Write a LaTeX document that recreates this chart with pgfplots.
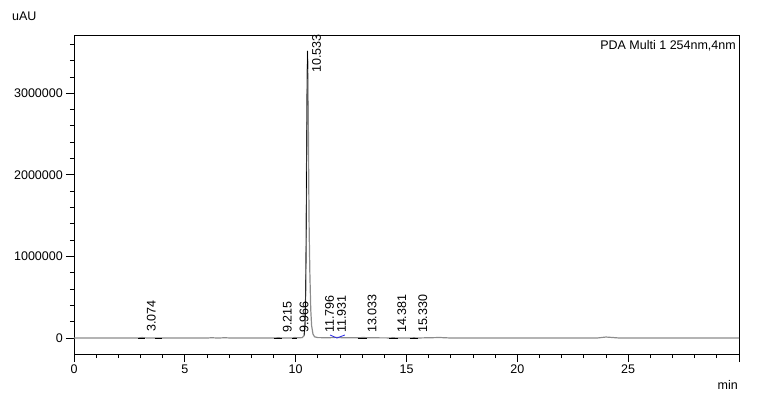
\documentclass[border=0pt]{standalone}
\usepackage{fontspec}
\setmainfont{Liberation Sans}
\usepackage{pgfplots}
\pgfplotsset{compat=1.18}
\definecolor{tracegray}{RGB}{140,140,140}
\definecolor{intblue}{RGB}{40,40,230}

% chromatogram, PDA 254 nm
\pgfplotstableread{
t y
0 0
2.85 0
2.95 2000
3.074 6000
3.2 2000
3.35 0
6.0 0
6.2 3000
6.5 0
6.8 3000
7.1 0
9.10 0
9.215 5000
9.35 0
9.85 0
9.966 6000
10.10 2000
10.30 5000
10.38 30000
10.42 150000
10.45 500000
10.47 1100000
10.49 2000000
10.51 2900000
10.533 3520000
10.55 3300000
10.57 2700000
10.59 1900000
10.61 1300000
10.64 800000
10.68 350000
10.72 150000
10.78 50000
10.85 15000
11.0 5000
11.5 3000
11.796 8000
11.931 6000
12.2 2000
12.9 2000
13.033 8000
13.2 3000
14.3 1000
14.381 5000
14.5 1000
15.25 0
15.330 4000
15.45 0
16.5 6000
17.0 0
23.6 0
24.0 12000
24.6 0
30 0
}\trace

\pgfplotstableread{
t y
10.38 30000
10.42 150000
10.45 500000
10.47 1100000
10.49 2000000
10.51 2900000
10.533 3520000
10.55 3300000
}\apex

% integration baseline marks
\pgfplotstableread{
t y
2.9 0
3.2 0
nan nan
3.65 0
3.97 0
nan nan
9.0 0
9.4 0
nan nan
9.85 0
10.05 0
nan nan
12.8 0
13.2 0
nan nan
14.2 0
14.6 0
nan nan
15.15 0
15.5 0
}\marks

\begin{document}
\fontsize{12.5bp}{15bp}\selectfont
\begin{tikzpicture}
\path[use as bounding box] (-74bp,-47bp) rectangle (691bp,354bp);
\begin{axis}[
    at={(0,0)}, anchor=south west,
    scale only axis,
    width=665bp, height=319bp,
    xmin=0, xmax=30,
    ymin=-196000, ymax=3714000,
    xtick={0,5,...,30},
    xticklabels={0,5,10,15,20,25,},
    minor xtick={1,2,...,29},
    ytick={0,1000000,2000000,3000000},
    yticklabels={0,1000000,2000000,3000000},
    minor ytick={200000,400000,...,3600000},
    scaled ticks=false,
    tick pos=left,
    tick align=outside,
    major tick length=8bp,
    minor tick length=4bp,
    tick style={black, line width=0.8bp},
    axis line style={line width=0.8bp},
    xticklabel style={inner sep=0pt, yshift=-3bp},
    yticklabel style={inner sep=0pt, xshift=-3bp},
    unbounded coords=jump,
    clip=false,
]
\addplot[tracegray, line width=1.2bp] table[x=t, y=y] {\trace};
\addplot[black, line width=0.6bp] table[x=t, y=y] {\apex};
\addplot[black, line width=1bp] table[x=t, y=y] {\marks};
\addplot[intblue, line width=0.8bp] coordinates {(11.55,37000) (11.86,0) (12.22,37000)};

% peak retention times
\begin{scope}[every node/.style={xshift=4.5bp, rotate=90, anchor=north west, inner sep=0pt}]
\node at (axis cs:3.074,72000) {3.074};
\node at (axis cs:9.215,60000) {9.215};
\node at (axis cs:9.966,60000) {9.966};
\node at (axis cs:10.533,3250000) {10.533};
\node at (axis cs:11.12,60000) {11.796};
\node at (axis cs:11.66,60000) {11.931};
\node at (axis cs:13.033,60000) {13.033};
\node at (axis cs:14.381,60000) {14.381};
\node at (axis cs:15.330,60000) {15.330};
\end{scope}

\node[anchor=west, inner sep=0pt] at (rel axis cs:0,1) [xshift=-62bp, yshift=19bp] {uAU};
\node[anchor=east, inner sep=0pt] at (rel axis cs:1,0) [xshift=-1bp, yshift=-31bp] {min};
\node[anchor=north east, inner sep=0pt] at (rel axis cs:1,1) [xshift=-3bp, yshift=-5bp] {PDA Multi 1 254nm,4nm};
\end{axis}
\end{tikzpicture}
\end{document}
